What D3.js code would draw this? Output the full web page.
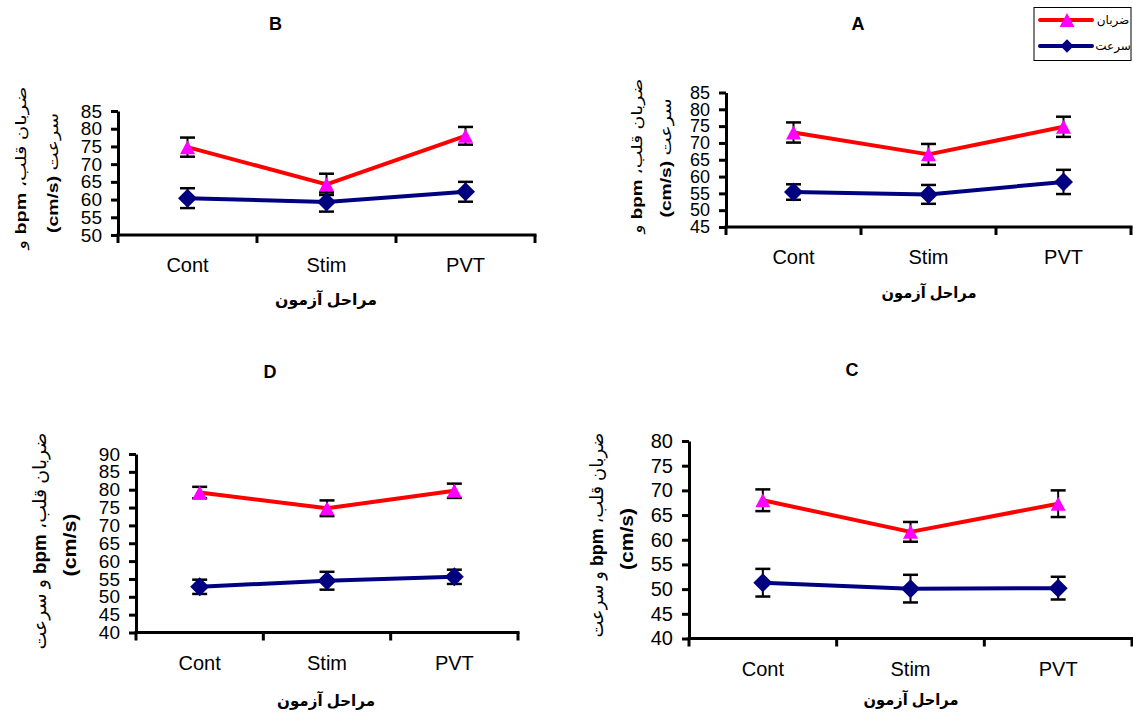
<!DOCTYPE html>
<html>
<head>
<meta charset="utf-8">
<script src="https://cdn.jsdelivr.net/npm/d3@7"></script>
<style>
  html, body { margin: 0; padding: 0; background: #fff; }
  svg { display: block; }
  text { font-family: "Liberation Sans", Arial, "DejaVu Sans", sans-serif; }
</style>
</head>
<body>
<svg id="chart" width="1133" height="715"></svg>
<script>
// ---------------- DATA ----------------
const categories = ["Cont", "Stim", "PVT"];
const seriesNames = ["ضربان", "سرعت"];

// Panel A
const heartA = [73.1, 66.6, 74.8];
const heartErrA = [3.0, 3.1, 3.0];
const speedA = [55.4, 54.7, 58.4];
const speedErrA = [2.3, 2.8, 3.6];
const ticksA = [45, 50, 55, 60, 65, 70, 75, 80, 85];

// Panel B
const heartB = [74.8, 64.3, 78.0];
const heartErrB = [2.7, 3.0, 2.5];
const speedB = [60.4, 59.3, 62.2];
const speedErrB = [2.8, 2.7, 2.8];
const ticksB = [50, 55, 60, 65, 70, 75, 80, 85];

// Panel C
const heartC = [68.0, 61.6, 67.3];
const heartErrC = [2.2, 2.0, 2.7];
const speedC = [51.3, 50.1, 50.2];
const speedErrC = [2.8, 2.8, 2.3];
const ticksC = [40, 45, 50, 55, 60, 65, 70, 75, 80];

// Panel D
const heartD = [79.2, 74.8, 79.7];
const heartErrD = [1.6, 2.2, 2.0];
const speedD = [52.8, 54.5, 55.6];
const speedErrD = [2.0, 2.5, 2.0];
const ticksD = [40, 45, 50, 55, 60, 65, 70, 75, 80, 85, 90];

const xTitle = "مراحل آزمون";

// ---------------- LAYOUT ----------------
const panels = [
  { name: "B", heart: heartB, heartErr: heartErrB, speed: speedB, speedErr: speedErrB, ticks: ticksB,
    x0: 118, x1: 535, yTop: 111, yBot: 235, title: [275.5, 30], xTitle: [326, 305, 102],
    yTitle: [[20, 168, 163, 15], [52, 173, 120, 15]], split: 1, tickFont: 19 },
  { name: "A", heart: heartA, heartErr: heartErrA, speed: speedA, speedErr: speedErrA, ticks: ticksA,
    x0: 726, x1: 1131, yTop: 92.5, yBot: 227, title: [858, 30], xTitle: [929, 298, 95],
    yTitle: [[636, 156, 155, 15], [665, 158, 119, 15]], split: 1, tickFont: 18 },
  { name: "D", heart: heartD, heartErr: heartErrD, speed: speedD, speedErr: speedErrD, ticks: ticksD,
    x0: 136, x1: 518, yTop: 454, yBot: 632.5, title: [270, 378], xTitle: [326, 706, 98],
    yTitle: [[40, 541, 217, 18], [70, 545, 63, 18]], split: 2, tickFont: 19 },
  { name: "C", heart: heartC, heartErr: heartErrC, speed: speedC, speedErr: speedErrC, ticks: ticksC,
    x0: 689, x1: 1132, yTop: 441, yBot: 638.5, title: [852, 376], xTitle: [911, 705, 95],
    yTitle: [[597, 535, 205, 18], [627, 539, 62, 18]], split: 2, tickFont: 20 }
];

const RED = "#FF0000", MAGENTA = "#FF00FF", NAVY = "#000080";
const svg = d3.select("#chart");
svg.append("rect").attr("width", 1133).attr("height", 715).attr("fill", "#fff");

const triPath = "M0,-7L7.5,7L-7.5,7Z";
const diaPath = "M0,-9.5L9.5,0L0,9.5L-9.5,0Z";

function yTitleParts(split) {
  if (split === 1) {
    return [
      [["ضربان قلب، ", "normal"], ["bpm", "bold"], [" و", "normal"]],
      [["سرعت ", "normal"], ["(cm/s)", "bold"]]
    ];
  }
  return [
    [["ضربان قلب، ", "normal"], ["bpm", "bold"], [" و سرعت", "normal"]],
    [["(cm/s)", "bold"]]
  ];
}

panels.forEach(p => {
  const g = svg.append("g");
  const x = d3.scaleBand().domain(categories).range([p.x0, p.x1]).padding(0);
  const y = d3.scaleLinear().domain([p.ticks[0], p.ticks[p.ticks.length - 1]]).range([p.yBot, p.yTop]);
  const cx = c => x(c) + x.bandwidth() / 2;

  // Title
  g.append("text").attr("x", p.title[0]).attr("y", p.title[1])
    .attr("text-anchor", "middle").attr("font-size", 18).attr("font-weight", "bold")
    .text(p.name);

  // Y axis
  const ya = g.append("g").attr("transform", `translate(${p.x0},0)`)
    .call(d3.axisLeft(y).tickValues(p.ticks).tickSize(7).tickSizeOuter(0).tickPadding(9));
  ya.select(".domain").attr("stroke", "#000").attr("stroke-width", 3);
  ya.selectAll(".tick line").attr("stroke", "#000").attr("stroke-width", 3);
  ya.selectAll(".tick text").attr("font-size", p.tickFont).attr("fill", "#000")
    .style("font-family", "'Liberation Sans', Arial, sans-serif");

  // X axis
  const xa = g.append("g").attr("transform", `translate(0,${p.yBot})`)
    .call(d3.axisBottom(x).tickSize(0).tickSizeOuter(0).tickPadding(20));
  xa.select(".domain").remove();
  xa.selectAll(".tick text").attr("font-size", 20).attr("fill", "#000").attr("dy", null)
    .attr("y", 37).style("font-family", "'Liberation Sans', Arial, sans-serif");
  g.append("line").attr("x1", p.x0 - 1.5).attr("x2", p.x1 + 1.5)
    .attr("y1", p.yBot).attr("y2", p.yBot).attr("stroke", "#000").attr("stroke-width", 3);
  const bounds = categories.map(c => x(c)).concat([x.range()[1]]);
  g.selectAll(".xb").data(bounds).enter().append("line")
    .attr("x1", d => d).attr("x2", d => d)
    .attr("y1", p.yBot).attr("y2", p.yBot + 8)
    .attr("stroke", "#000").attr("stroke-width", 3);

  // X title
  g.append("text").attr("x", p.xTitle[0]).attr("y", p.xTitle[1])
    .attr("text-anchor", "middle").attr("font-size", 16).attr("font-weight", "bold")
    .attr("textLength", p.xTitle[2]).attr("lengthAdjust", "spacingAndGlyphs")
    .style("direction", "rtl")
    .text(xTitle);

  // Y title (rotated, two lines)
  const parts = yTitleParts(p.split);
  p.yTitle.forEach((lt, i) => {
    const t = g.append("text")
      .attr("transform", `translate(${lt[0]},${lt[1]}) rotate(-90)`)
      .attr("text-anchor", "middle").attr("dominant-baseline", "central")
      .attr("font-size", lt[3])
      .attr("textLength", lt[2]).attr("lengthAdjust", "spacingAndGlyphs")
      .style("direction", "rtl");
    parts[i].forEach(pt => {
      t.append("tspan").attr("font-weight", pt[1]).text(pt[0]);
    });
  });

  // Series
  const series = [
    { vals: p.speed, errs: p.speedErr, color: NAVY, marker: diaPath, mfill: NAVY },
    { vals: p.heart, errs: p.heartErr, color: RED, marker: triPath, mfill: MAGENTA }
  ];
  const line = d3.line().x((d, i) => cx(categories[i])).y(d => y(d));
  series.forEach(s => {
    g.append("path").datum(s.vals).attr("d", line)
      .attr("fill", "none").attr("stroke", s.color).attr("stroke-width", 4)
      .attr("stroke-linejoin", "round");
  });
  series.forEach(s => {
    const eb = g.append("g");
    s.vals.forEach((v, i) => {
      const xc = cx(categories[i]);
      const hi = y(v + s.errs[i]), lo = y(v - s.errs[i]);
      eb.append("line").attr("x1", xc).attr("x2", xc).attr("y1", hi).attr("y2", lo)
        .attr("stroke", "#000").attr("stroke-width", 2);
      [hi, lo].forEach(yy => {
        eb.append("line").attr("x1", xc - 7.5).attr("x2", xc + 7.5).attr("y1", yy).attr("y2", yy)
          .attr("stroke", "#000").attr("stroke-width", 2.5);
      });
    });
  });
  series.forEach(s => {
    g.selectAll(null).data(s.vals).enter().append("path")
      .attr("d", s.marker)
      .attr("transform", (d, i) => `translate(${cx(categories[i])},${y(d)})`)
      .attr("fill", s.mfill);
  });
});

// ---------------- LEGEND ----------------
const lg = svg.append("g");
lg.append("rect").attr("x", 1034).attr("y", 7.5).attr("width", 97).attr("height", 53)
  .attr("fill", "#fff").attr("stroke", "#000").attr("stroke-width", 1);
const legendItems = [
  { name: seriesNames[0], color: RED, marker: triPath, mfill: MAGENTA, scale: 1.0 },
  { name: seriesNames[1], color: NAVY, marker: diaPath, mfill: NAVY, scale: 0.7 }
];
const ly = d3.scalePoint().domain(seriesNames).range([20, 46]);
legendItems.forEach(it => {
  const yy = ly(it.name);
  lg.append("line").attr("x1", 1040).attr("x2", 1092).attr("y1", yy).attr("y2", yy)
    .attr("stroke", it.color).attr("stroke-width", 4).attr("stroke-linecap", "round");
  lg.append("path").attr("d", it.marker)
    .attr("transform", `translate(1067,${yy}) scale(${it.scale})`).attr("fill", it.mfill);
  lg.append("text").attr("x", 1113).attr("y", yy).attr("dominant-baseline", "central")
    .attr("text-anchor", "middle").attr("font-size", 12).style("direction", "rtl")
    .text(it.name);
});
</script>
</body>
</html>
